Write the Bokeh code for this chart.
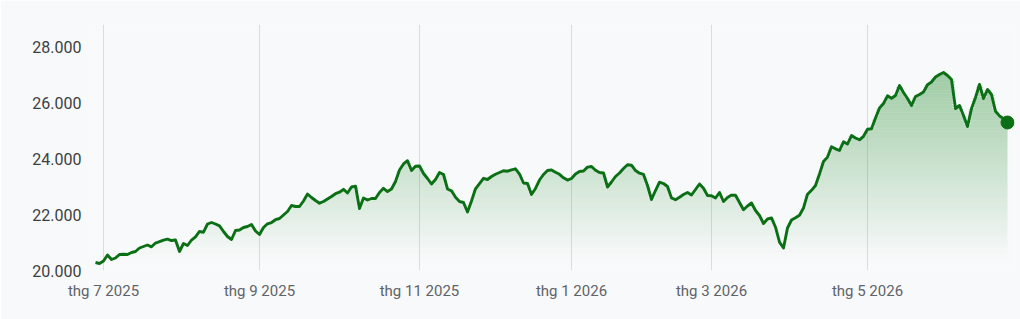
import numpy as np
from bokeh.plotting import figure
from bokeh.models import FixedTicker, Range1d
from bokeh.embed import file_html
from bokeh.resources import INLINE

# Daily closing values (one per trading session)
close = [
    20286, 20250, 20339, 20554, 20393, 20446, 20571, 20582, 20571, 20643,
    20679, 20804, 20857, 20911, 20846, 20982, 21029, 21082, 21121, 21071,
    21089, 20679, 20964, 20893, 21089, 21204, 21393, 21368, 21661, 21714,
    21661, 21593, 21393, 21214, 21107, 21429, 21446, 21536, 21571, 21643,
    21411, 21286, 21536, 21668, 21714, 21814, 21857, 21982, 22107, 22321,
    22286, 22286, 22482, 22732, 22607, 22500, 22404, 22464, 22554, 22643,
    22743, 22796, 22900, 22768, 22982, 23014, 22214, 22589, 22518, 22571,
    22571, 22786, 22936, 22821, 22911, 23179, 23589, 23804, 23921, 23571,
    23725, 23732, 23464, 23286, 23089, 23250, 23500, 23429, 22911, 22846,
    22618, 22464, 22429, 22089, 22482, 22918, 23107, 23293, 23250, 23357,
    23439, 23500, 23564, 23546, 23596, 23632, 23446, 23125, 23107, 22714,
    22929, 23232, 23429, 23571, 23593, 23511, 23436, 23311, 23229, 23286,
    23446, 23536, 23554, 23693, 23714, 23582, 23500, 23482, 22982, 23161,
    23357, 23482, 23643, 23775, 23761, 23571, 23475, 23429, 23036, 22536,
    22857, 23154, 23107, 23000, 22589, 22529, 22614, 22714, 22786, 22696,
    22893, 23089, 22936, 22679, 22668, 22589, 22786, 22464, 22607, 22693,
    22689, 22429, 22168, 22304, 22411, 22143, 21964, 21679, 21839, 21879,
    21546, 21014, 20804, 21518, 21804, 21882, 21971, 22232, 22725, 22864,
    23036, 23446, 23893, 24050, 24421, 24346, 24286, 24596, 24518, 24821,
    24732, 24668, 24793, 25043, 25061, 25446, 25804, 25964, 26239, 26150,
    26250, 26607, 26357, 26143, 25893, 26214, 26286, 26375, 26636, 26732,
    26911, 27000, 27071, 26964, 26821, 25786, 25893, 25536, 25143, 25786,
    26179, 26643, 26143, 26464, 26286, 25686, 25521, 25429, 25286,
]

tick_sessions = [2, 41, 81, 119, 154, 193]
tick_labels = ["thg 7 2025", "thg 9 2025", "thg 11 2025",
               "thg 1 2026", "thg 3 2026", "thg 5 2026"]
y_ticks = [20000, 22000, 24000, 26000, 28000]
y_labels = ["20.000", "22.000", "24.000", "26.000", "28.000"]

sessions = np.arange(len(close))
vals = np.array(close, dtype=float)

BG = "#f8f9fa"
LINE = "#0b7015"
FILL = "#1f8a2a"

p = figure(width=1020, height=319, output_backend="svg", toolbar_location=None,
           x_range=Range1d(-1.25, 229.75), y_range=Range1d(20000, 28786),
           min_border_left=90, min_border_right=6, min_border_top=24,
           min_border_bottom=49)
p.background_fill_color = BG
p.border_fill_color = BG
p.outline_line_color = None

# gradient fill as stacked horizontal bands
lo, hi = 20400.0, 27200.0
nb = 70
edges = np.linspace(lo, hi, nb + 1)
for k in range(nb):
    a, b = edges[k], edges[k + 1]
    alpha = 0.42 * ((a + b) / 2 - lo) / (hi - lo)
    top = np.clip(vals, a, b)
    p.varea(x=sessions, y1=np.full_like(vals, a), y2=top,
            fill_color=FILL, fill_alpha=alpha)

p.line(sessions, vals, line_color=LINE, line_width=2.9, line_join="round")
p.scatter([sessions[-1]], [vals[-1]], size=13, color=LINE)

# grids
p.ygrid.grid_line_color = None
p.xgrid.grid_line_color = "#dadce0"
p.xgrid.grid_line_width = 1
p.xgrid.ticker = FixedTicker(ticks=tick_sessions)

# axes
xa = p.xaxis[0]
xa.ticker = FixedTicker(ticks=tick_sessions)
xa.major_label_overrides = {t: l for t, l in zip(tick_sessions, tick_labels)}
xa.axis_line_color = None
xa.major_tick_line_color = None
xa.minor_tick_line_color = None
xa.major_tick_out = 0
xa.major_tick_in = 0
xa.major_label_standoff = 11
xa.major_label_text_font = "Roboto"
xa.major_label_text_font_size = "15px"
xa.major_label_text_color = "#5f6368"

ya = p.yaxis[0]
ya.ticker = FixedTicker(ticks=y_ticks)
ya.major_label_overrides = {t: l for t, l in zip(y_ticks, y_labels)}
ya.axis_line_color = None
ya.major_tick_line_color = None
ya.minor_tick_line_color = None
ya.major_tick_out = 0
ya.major_tick_in = 0
ya.major_label_standoff = 9
ya.major_label_text_font = "Roboto"
ya.major_label_text_font_size = "16px"
ya.major_label_text_color = "#3c4043"

open("out.html", "w").write(file_html(p, INLINE))
